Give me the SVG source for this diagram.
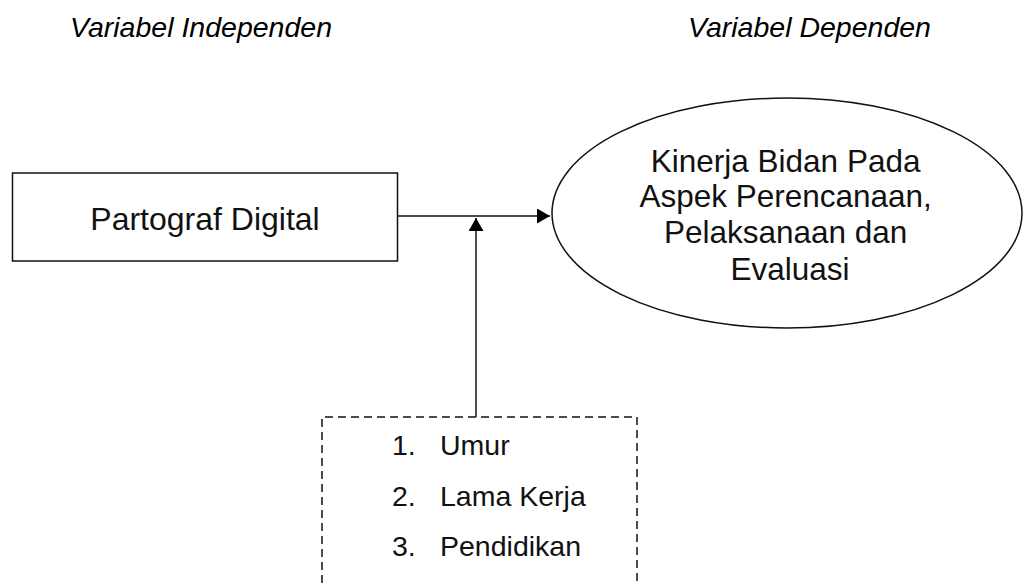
<svg xmlns="http://www.w3.org/2000/svg" width="1024" height="583" viewBox="0 0 1024 583">
  <style>
    .hdr { font-family: "Liberation Sans", Arial, sans-serif; font-size: 28.5px; font-style: italic; fill: #000; }
    .lbl { font-family: "Liberation Sans", Arial, sans-serif; fill: #111; }
    .shape { fill: #fff; stroke: #111; stroke-width: 1.5; }
    .dash { fill: none; stroke: #111; stroke-width: 1.5; stroke-dasharray: 8 5; }
    .wire { fill: none; stroke: #111; stroke-width: 1.5; }
  </style>
  <defs>
    <marker id="arrow" viewBox="0 0 13 15" refX="13" refY="7.5" markerWidth="13" markerHeight="15" markerUnits="userSpaceOnUse" orient="auto">
      <path d="M0,0 L13,7.5 L0,15 Z" fill="#000"/>
    </marker>
  </defs>
  <rect width="1024" height="583" fill="#fff"/>

  <!-- column headings -->
  <text class="hdr" x="70" y="37">Variabel Independen</text>
  <text class="hdr" x="688" y="37">Variabel Dependen</text>

  <!-- connectors -->
  <g id="connectors">
    <line class="wire" x1="397" y1="216" x2="550" y2="216" marker-end="url(#arrow)"/>
    <line class="wire" x1="476" y1="417" x2="476" y2="218" marker-end="url(#arrow)"/>
  </g>

  <!-- independent variable -->
  <g id="partograf">
    <rect class="shape" x="12.5" y="173" width="385" height="88"/>
    <text class="lbl" x="205" y="230" font-size="32" text-anchor="middle">Partograf Digital</text>
  </g>

  <!-- dependent variable -->
  <g id="kinerja">
    <ellipse class="shape" cx="787" cy="213" rx="235" ry="115"/>
    <text class="lbl" font-size="31.5" text-anchor="middle">
      <tspan x="790" y="172">Kinerja Bidan Pada</tspan>
      <tspan x="790" y="207">Aspek Perencanaan,</tspan>
      <tspan x="790" y="243">Pelaksanaan dan</tspan>
      <tspan x="790" y="280">Evaluasi</tspan>
    </text>
  </g>

  <!-- confounding factors -->
  <g id="karakteristik">
    <polyline class="dash" points="322,583 322,417 637,417 637,583"/>
    <text class="lbl" font-size="28.5">
      <tspan x="392" y="455">1.</tspan><tspan x="440" y="455">Umur</tspan>
      <tspan x="392" y="506">2.</tspan><tspan x="440" y="506">Lama Kerja</tspan>
      <tspan x="392" y="556">3.</tspan><tspan x="440" y="556">Pendidikan</tspan>
    </text>
  </g>
</svg>
